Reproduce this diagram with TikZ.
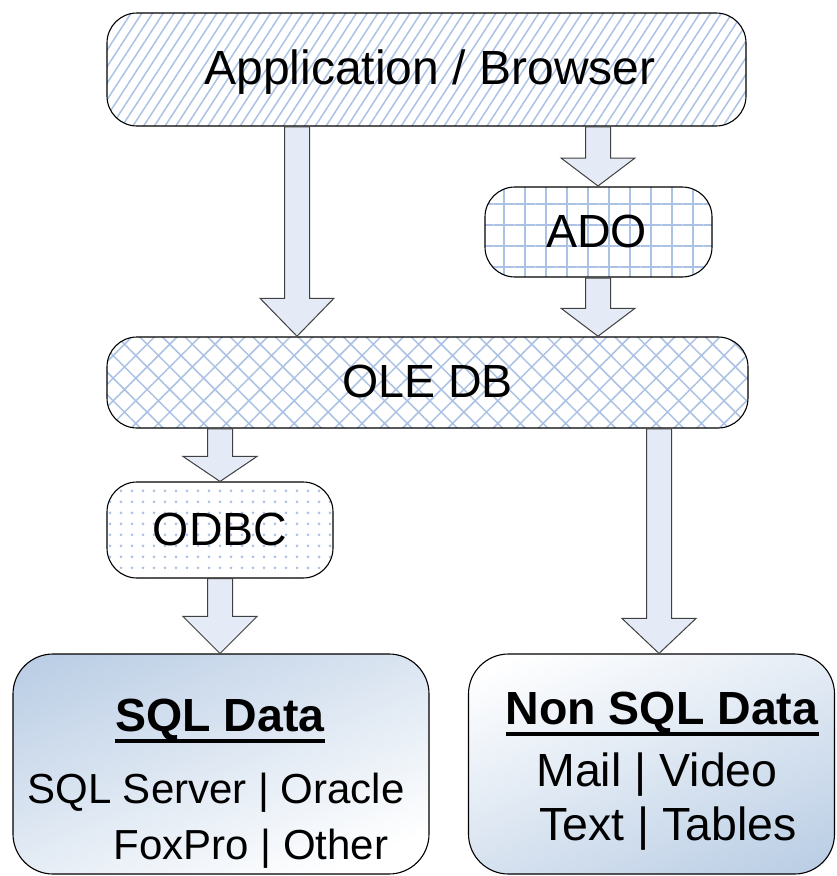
\documentclass[tikz,border=0pt]{standalone}
\usepackage{fontspec}
\setmainfont{Liberation Sans}
\usetikzlibrary{patterns.meta,calc}
\definecolor{patc}{RGB}{172,194,228}
\definecolor{arrfill}{RGB}{228,234,246}
\definecolor{gradblue}{RGB}{184,204,228}
\pgfdeclarehorizontalshading{cornergrad}{1400bp}{color(0bp)=(gradblue); color(320bp)=(white); color(700bp)=(white)}
\newcommand{\blockarr}[3]{%
  \draw[arrstyle] let \p1=(#1), \p2=(#2) in
    (\x1-12.5pt,\y1) -- (\x1-12.5pt,\y2+#3pt) -- (\x1-37pt,\y2+#3pt) -- (\x1,\y2)
    -- (\x1+37pt,\y2+#3pt) -- (\x1+12.5pt,\y2+#3pt) -- (\x1+12.5pt,\y1) -- cycle;}
\begin{document}
\begin{tikzpicture}[x=1pt,y=-1pt,
  box/.style={draw=black, line width=1.1pt, rectangle, rounded corners=30pt, inner sep=0pt, preaction={fill=white}},
  databox/.style={draw=black, line width=1.1pt, rectangle, rounded corners=40pt, inner sep=0pt, fill=white},
  arrstyle/.style={draw=black!75, fill=arrfill, line width=1pt, line join=miter},
  txt/.style={inner sep=0pt, anchor=base, font=\fontsize{46.5}{54}\selectfont},
  stxt/.style={inner sep=0pt, anchor=base, font=\fontsize{42}{50}\selectfont},
  htxt/.style={inner sep=0pt, anchor=base, font=\fontsize{46.5}{54}\selectfont\bfseries}]
\useasboundingbox (0,0) rectangle (836,876);
% boxes
\node[box, minimum width=639pt, minimum height=113pt, pattern={Lines[angle=57,distance=9pt,line width=1.5pt]}, pattern color=patc] (app) at (426.5,69.5) {};
\node[box, minimum width=227pt, minimum height=90pt, pattern={Hatch[angle=0,distance=21pt,line width=2pt]}, pattern color=patc] (ado) at (598.5,232) {};
\node[box, minimum width=641pt, minimum height=91pt, pattern={Hatch[angle=45,distance=16pt,line width=1.5pt]}, pattern color=patc] (ole) at (427.5,382.5) {};
\node[box, minimum width=226pt, minimum height=96pt, pattern={Dots[distance=11pt,radius=1.5pt]}, pattern color=patc] (odbc) at (220,530) {};
\node[databox, minimum width=416pt, minimum height=220pt,
  path picture={\node[inner sep=0pt, anchor=west, rotate=-68] at (path picture bounding box.north west) {\pgfuseshading{cornergrad}};}] (sql) at (221,764) {};
\node[databox, minimum width=366pt, minimum height=220pt,
  path picture={\node[inner sep=0pt, anchor=west, rotate=112] at (path picture bounding box.south east) {\pgfuseshading{cornergrad}};}] (nonsql) at (651.5,764) {};
% texts
\node[txt, font=\fontsize{48}{55}\selectfont] (tapp) at (430,84) {Application / Browser};
\node[txt] (tado) at (596.5,247) {ADO};
\node[txt] (tole) at (427.5,397) {OLE DB};
\node[txt] (todbc) at (220,545) {ODBC};
\node[htxt] (tsql) at (220,731) {SQL Data};
\draw[line width=3.2pt] ([yshift=-10pt]tsql.base west) -- ([yshift=-10pt]tsql.base east);
\node[stxt] (tsql1) at (216,803) {SQL Server | Oracle};
\node[stxt] (tsql2) at (251,859) {FoxPro | Other};
\node[htxt] (tnon) at (662,724) {Non SQL Data};
\draw[line width=3.2pt] ([yshift=-10pt]tnon.base west) -- ([yshift=-10pt]tnon.base east);
\node[txt] (tnon1) at (657,786) {Mail | Video};
\node[txt] (tnon2) at (668,840) {Text | Tables};
% arrow columns
\coordinate (c1) at (297,0);
\coordinate (c2) at (598,0);
\coordinate (c3) at (220,0);
\coordinate (c4) at (659,0);
% block arrows
\blockarr{app.south -| c1}{ole.north -| c1}{38}
\blockarr{app.south -| c2}{ado.north -| c2}{28}
\blockarr{ado.south -| c2}{ole.north -| c2}{28}
\blockarr{ole.south -| c3}{odbc.north -| c3}{25}
\blockarr{odbc.south -| c3}{sql.north -| c3}{37}
\blockarr{ole.south -| c4}{nonsql.north -| c4}{35}
\end{tikzpicture}
\end{document}
